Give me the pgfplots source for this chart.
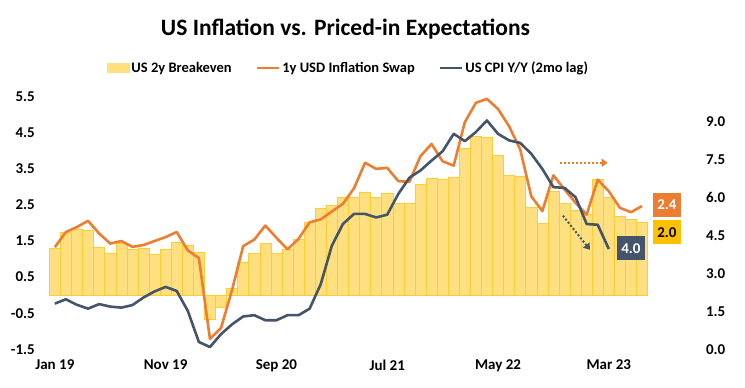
\documentclass[border=0pt]{standalone}
\usepackage{fontspec}
\setmainfont{Carlito}
\usepackage{pgfplots}
\usepackage{pgfplotstable}
\pgfplotsset{compat=1.18}
\usetikzlibrary{arrows.meta}
\definecolor{barfill}{HTML}{FFDF80}
\definecolor{baredge}{HTML}{FFCC33}
\definecolor{orng}{HTML}{ED7D31}
\definecolor{darkc}{HTML}{44546A}
\definecolor{gold}{HTML}{FFC000}

\pgfplotstableread{
i be
0 1.31
1 1.75
2 1.84
3 1.79
4 1.34
5 1.17
6 1.43
7 1.26
8 1.31
9 1.14
10 1.26
11 1.48
12 1.37
13 1.20
14 -0.67
15 -0.33
16 0.20
17 0.90
18 1.17
19 1.43
20 1.17
21 1.26
22 1.56
23 2.03
24 2.42
25 2.48
26 2.70
27 2.70
28 2.86
29 2.72
30 2.83
31 2.56
32 2.56
33 3.08
34 3.25
35 3.22
36 3.28
37 4.06
38 4.41
39 4.39
40 3.89
41 3.31
42 3.29
43 2.43
44 2.00
45 2.87
46 2.55
47 2.34
48 2.25
49 3.20
50 2.70
51 2.18
52 2.10
53 2.03
}\betable

\pgfplotstableread{
i sw
0 1.33
1 1.75
2 1.89
3 2.06
4 1.71
5 1.43
6 1.50
7 1.34
8 1.39
9 1.50
10 1.61
11 1.75
12 1.24
13 1.03
14 -1.21
15 -0.91
16 0.15
17 1.36
18 1.54
19 1.93
20 1.59
21 1.27
22 1.56
23 2.02
24 2.10
25 2.32
26 2.53
27 2.96
28 3.67
29 3.50
30 3.53
31 3.16
32 3.14
33 3.85
34 4.19
35 3.71
36 3.59
37 4.79
38 5.33
39 5.44
40 5.16
41 4.68
42 4.04
43 2.74
44 2.33
45 3.32
46 2.93
47 2.56
48 2.23
49 3.20
50 2.88
51 2.42
52 2.30
53 2.47
}\swtable

\pgfplotstableread{
i cpi
0 1.81
1 1.98
2 1.76
3 1.61
4 1.79
5 1.69
6 1.65
7 1.75
8 2.05
9 2.29
10 2.47
11 2.31
12 1.52
13 0.29
14 0.09
15 0.60
16 0.99
17 1.30
18 1.35
19 1.15
20 1.15
21 1.35
22 1.35
23 1.61
24 2.58
25 4.10
26 4.96
27 5.36
28 5.36
29 5.22
30 5.33
31 6.15
32 6.79
33 7.08
34 7.47
35 7.84
36 8.53
37 8.24
38 8.60
39 9.06
40 8.53
41 8.27
42 8.17
43 7.74
44 7.14
45 6.42
46 6.39
47 6.02
48 4.96
49 4.93
50 3.97
}\cpitable

\begin{document}
\begin{tikzpicture}
\useasboundingbox (0,0) rectangle (745bp,388bp);
\pgfplotsset{
 common/.style={
  at={(49.3bp,38.7bp)}, anchor=south west,
  scale only axis, width=598.3bp, height=252.6bp,
  xmin=-0.5, xmax=53.5,
  axis line style={draw=none},
  major tick length=0pt,
  tick label style={font=\fontsize{15bp}{17bp}\selectfont\bfseries},
  /pgf/number format/assume math mode=true,
  /pgf/number format/.cd, fixed, fixed zerofill, precision=1, /pgfplots/.cd,
  clip=false,
 }
}
\begin{axis}[common,
  ymin=-1.5, ymax=5.5,
  ytick={-1.5,-0.5,0.5,1.5,2.5,3.5,4.5,5.5},
  yticklabel style={xshift=-11bp},
  xtick={0,10,20,30,40,50},
  xticklabels={Jan 19,Nov 19,Sep 20,Jul 21,May 22,Mar 23},
  xticklabel style={yshift=-7bp},
  legend style={at={(0.5,1.114)}, anchor=center, draw=none, fill=none,
    legend columns=3, font=\fontsize{14.5bp}{16bp}\selectfont\bfseries,
    /tikz/every even column/.append style={column sep=22bp},
    nodes={inner sep=2bp}},
]
\addplot[ybar, bar width=11.08bp, fill=barfill, draw=baredge, line width=0.5bp,
  legend image code/.code={\fill[barfill] (0bp,-4.5bp) rectangle (22bp,4.5bp);}]
  table[x=i,y=be] {\betable};
\addlegendentry{US 2y Breakeven}
\addplot[orng, line width=2.6bp, line join=round,
  legend image code/.code={\draw[orng, line width=2.6bp] (0bp,0bp) -- (22bp,0bp);}]
  table[x=i,y=sw] {\swtable};
\addlegendentry{1y USD Inflation Swap}
\addlegendimage{legend image code/.code={\draw[darkc, line width=2.6bp] (0bp,0bp) -- (22bp,0bp);}}
\addlegendentry{US CPI Y/Y (2mo lag)}
\draw[orng, line width=2bp, dash pattern=on 2bp off 2bp, -{Triangle[length=6bp,width=8bp]}]
  (axis cs:45.6,3.67) -- (axis cs:49.9,3.67);
\node[fill=orng, text=white, font=\fontsize{15bp}{17bp}\selectfont\bfseries,
  minimum width=28bp, minimum height=24bp, inner sep=0pt] at (axis cs:55.25,2.51) {2.4};
\node[fill=gold, text=black, font=\fontsize{15bp}{17bp}\selectfont\bfseries,
  minimum width=28bp, minimum height=24bp, inner sep=0pt] at (axis cs:55.25,1.745) {2.0};
\end{axis}
\begin{axis}[common,
  ymin=0, ymax=10,
  ytick={0,1.5,3,4.5,6,7.5,9},
  yticklabel pos=right,
  yticklabel style={xshift=55bp},
  xtick=\empty,
]
\addplot[darkc, line width=2.6bp, line join=round] table[x=i,y=cpi] {\cpitable};
\draw[darkc, line width=2bp, dash pattern=on 2bp off 2bp, -{Triangle[length=6bp,width=8bp]}]
  (axis cs:45.86,5.29) -- (axis cs:48.3,3.94);
\node[fill=darkc, text=white, font=\fontsize{15bp}{17bp}\selectfont\bfseries,
  minimum width=28bp, minimum height=24bp, inner sep=0pt] at (axis cs:52.0,4.0) {4.0};
\end{axis}
\node[font=\fontsize{23.5bp}{27bp}\selectfont\bfseries] at (345.5bp,359bp)
  {US Inflation vs. Priced-in Expectations};
\end{tikzpicture}
\end{document}
